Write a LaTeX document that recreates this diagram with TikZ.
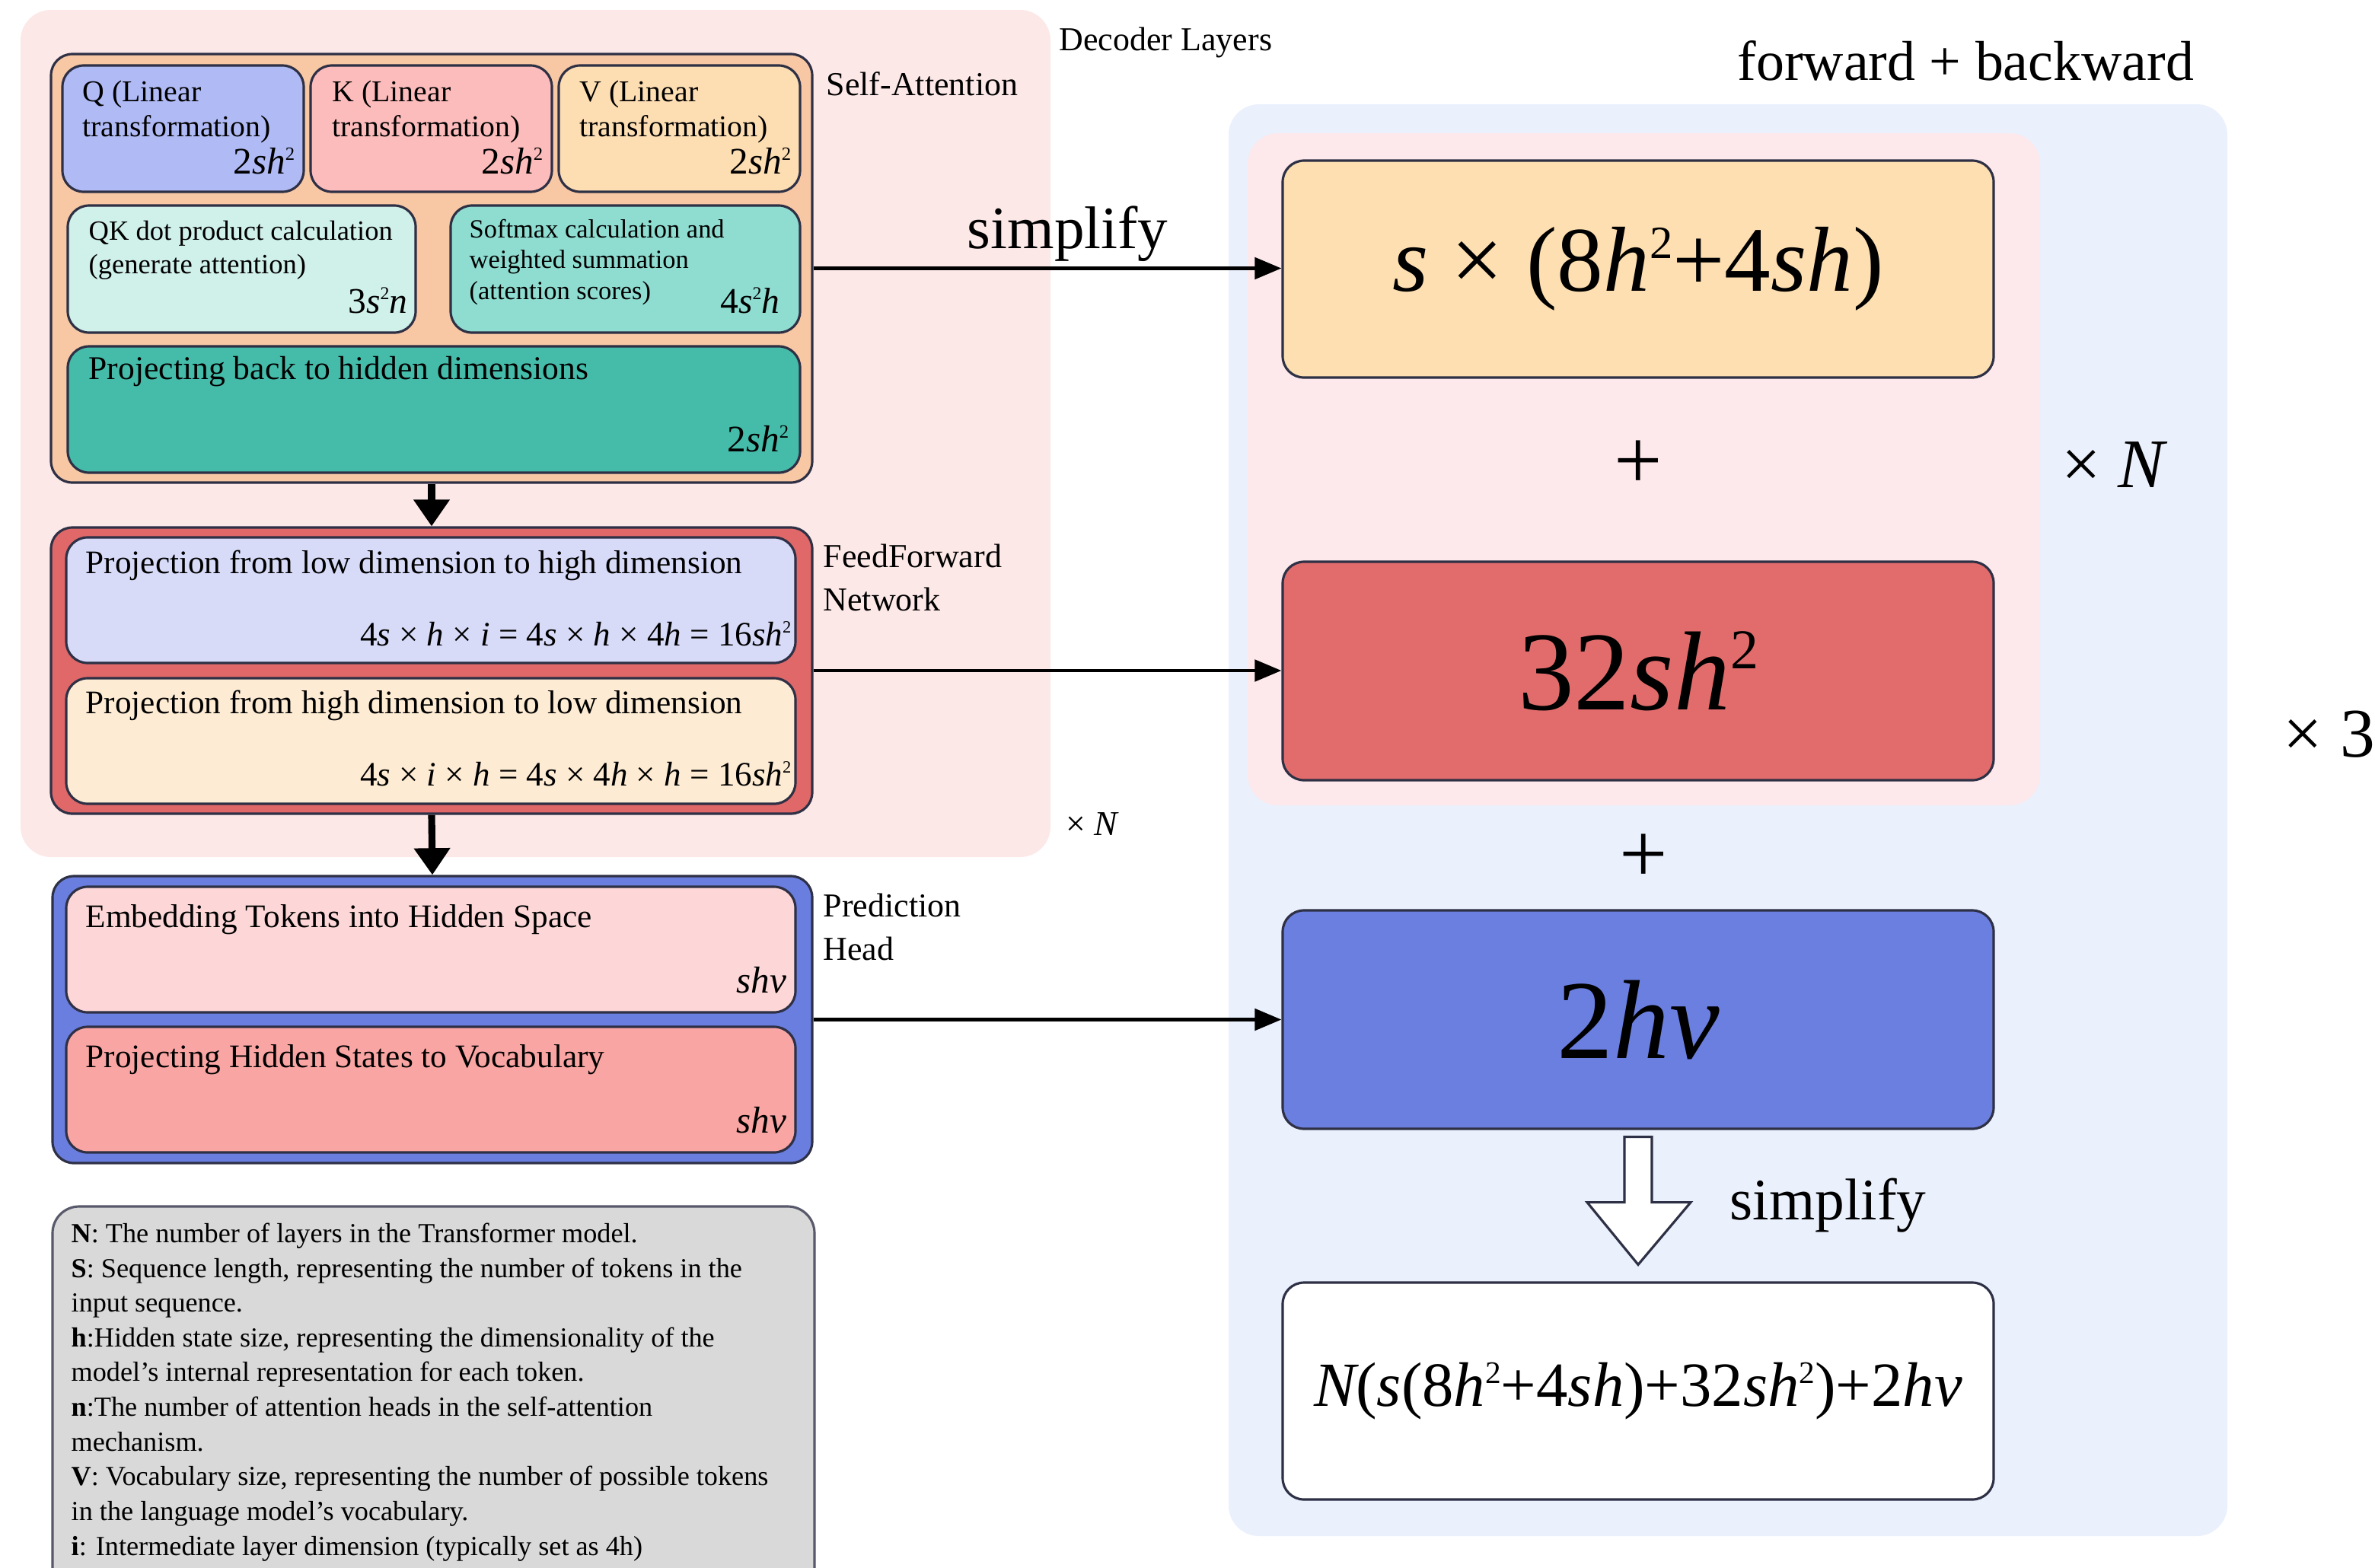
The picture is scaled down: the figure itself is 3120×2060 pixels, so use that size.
\documentclass[tikz,border=0pt]{standalone}
\usepackage{fontspec}
\setmainfont{Liberation Serif}
\usetikzlibrary{fit,arrows.meta,calc}

\definecolor{edge}{HTML}{2E3045}
\definecolor{decbg}{HTML}{FDE8E8}
\definecolor{safill}{HTML}{F8C8A4}
\definecolor{qfill}{HTML}{B0BAF5}
\definecolor{kfill}{HTML}{FDBCBC}
\definecolor{vfill}{HTML}{FDDDB2}
\definecolor{qkfill}{HTML}{D0F0EA}
\definecolor{smfill}{HTML}{8FDDD1}
\definecolor{pbfill}{HTML}{45BBA9}
\definecolor{ffnfill}{HTML}{E06868}
\definecolor{ffafill}{HTML}{D7DBF8}
\definecolor{ffbfill}{HTML}{FDEBD3}
\definecolor{phfill}{HTML}{6A7EE0}
\definecolor{phafill}{HTML}{FDD7D7}
\definecolor{phbfill}{HTML}{F9A5A3}
\definecolor{legfill}{HTML}{D9D9D9}
\definecolor{rbgfill}{HTML}{EAF0FC}
\definecolor{rpkfill}{HTML}{FDE9EB}
\definecolor{bafill}{HTML}{FDDFB1}
\definecolor{bbfill}{HTML}{E26C6C}
\definecolor{bcfill}{HTML}{6B7FE0}

\newcommand\fsz[2]{\fontsize{#1}{#2}\selectfont}
\newcommand\mv[1]{{\itshape #1}}
% small raised square sign, as in the formulas
\newcommand\sqd{\raisebox{0.36em}{\scalebox{0.5}{2}}}

\tikzset{
  panel/.style={draw=edge, line width=0.9pt, rounded corners=0.28cm, inner sep=0pt},
  bgpanel/.style={draw=none, rounded corners=0.4cm, inner sep=0pt},
  lbl/.style={anchor=base west, inner sep=0pt, align=left},
  frm/.style={anchor=base east, inner sep=0pt},
  link/.style={line width=1.4pt, -{Triangle[length=10pt,width=8pt]}},
  flow/.style={line width=2.6pt, -{Triangle[length=10pt,width=13pt]}},
}

\begin{document}
\begin{tikzpicture}[x=0.01cm,y=-0.01cm]
\useasboundingbox (0,0) rectangle (3120,2060);
\fill[white] (0,0) rectangle (3120,2060);

% ---- backgrounds ----
\node[bgpanel, fill=decbg, fit={(27,13) (1380,1126)}] (dec) {};
\node[bgpanel, fill=rbgfill, fit={(1614,137) (2926,2018)}] (rbg) {};
\node[bgpanel, fill=rpkfill, fit={(1639,175) (2680,1058)}] (rpk) {};

% ---- self-attention block ----
\node[panel, fill=safill, fit={(67,71) (1067,634)}] (sa) {};
\node[panel, fill=qfill, fit={(82,86) (399,252)}] (q) {};
\node[panel, fill=kfill, fit={(408,86) (725,252)}] (k) {};
\node[panel, fill=vfill, fit={(734,86) (1051,252)}] (v) {};
\node[panel, fill=qkfill, fit={(89,270) (546,437)}] (qk) {};
\node[panel, fill=smfill, fit={(592,270) (1051,437)}] (sm) {};
\node[panel, fill=pbfill, fit={(89,455) (1051,621)}] (pb) {};

% multi-line labels are placed by the baseline of their last line
\node[lbl, font=\fsz{11.3}{12.8}] (qt) at (108,179) {Q (Linear\\transformation)};
\node[lbl, font=\fsz{11.3}{12.8}] (kt) at (436,179) {K (Linear\\transformation)};
\node[lbl, font=\fsz{11.3}{12.8}] (vt) at (761,179) {V (Linear\\transformation)};
\node[frm, font=\fsz{14}{16}] (qf) at (388,228) {2\mv{sh}\sqd};
\node[frm, font=\fsz{14}{16}] (kf) at (714,228) {2\mv{sh}\sqd};
\node[frm, font=\fsz{14}{16}] (vf) at (1040,228) {2\mv{sh}\sqd};

\node[lbl, font=\fsz{10.4}{12.5}] (qkt) at (116,359) {QK dot product calculation\\(generate attention)};
\node[frm, font=\fsz{13.5}{16}] (qkf) at (536,411) {3\mv{s}\sqd\mv{n}};
\node[lbl, font=\fsz{9.8}{11.4}] (smt) at (616,393) {Softmax calculation and\\weighted summation\\(attention scores)};
\node[frm, font=\fsz{13.5}{16}] (smf) at (1025,411) {4\mv{s}\sqd\mv{h}};
\node[lbl, font=\fsz{12.4}{14}] (pbt) at (116,498) {Projecting back to hidden dimensions};
\node[frm, font=\fsz{14}{16}] (pbf) at (1037,593) {2\mv{sh}\sqd};

% ---- feed-forward block ----
\node[panel, fill=ffnfill, fit={(67,693) (1067,1069)}] (ffn) {};
\node[panel, fill=ffafill, fit={(87,706) (1045,871)}] (ffa) {};
\node[panel, fill=ffbfill, fit={(87,891) (1045,1056)}] (ffb) {};
\node[lbl, font=\fsz{12.3}{14}] (ffat) at (112,753) {Projection from low dimension to high dimension};
\node[frm, font=\fsz{12.8}{15}] (ffaf) at (1040,848) {4\mv{s} × \mv{h} × \mv{i} = 4\mv{s} × \mv{h} × 4\mv{h} = 16\mv{sh}\sqd};
\node[lbl, font=\fsz{12.3}{14}] (ffbt) at (112,937) {Projection from high dimension to low dimension};
\node[frm, font=\fsz{12.8}{15}] (ffbf) at (1040,1032) {4\mv{s} × \mv{i} × \mv{h} = 4\mv{s} × 4\mv{h} × \mv{h} = 16\mv{sh}\sqd};

% ---- prediction head block ----
\node[panel, fill=phfill, fit={(69,1151) (1067,1528)}] (ph) {};
\node[panel, fill=phafill, fit={(87,1165) (1045,1330)}] (pha) {};
\node[panel, fill=phbfill, fit={(87,1349) (1045,1514)}] (phb) {};
\node[lbl, font=\fsz{12.3}{14}] (phat) at (112,1218) {Embedding Tokens into Hidden Space};
\node[frm, font=\fsz{14}{16}] (phaf) at (1034,1304) {\mv{shv}};
\node[lbl, font=\fsz{12.3}{14}] (phbt) at (112,1402) {Projecting Hidden States to Vocabulary};
\node[frm, font=\fsz{14}{16}] (phbf) at (1034,1488) {\mv{shv}};

% ---- block captions ----
\node[lbl, font=\fsz{12.5}{16}] (dect) at (1391,66) {Decoder Layers};
\node[lbl, font=\fsz{12.5}{16}] (sat) at (1085,125) {Self-Attention};
\node[lbl, font=\fsz{12.5}{16.2}] (ffnt) at (1081,802) {FeedForward\\Network};
\node[lbl, font=\fsz{12.5}{16.2}] (pht) at (1081,1261) {Prediction\\Head};
\node[lbl, font=\fsz{13}{16}] (decn) at (1400,1097) {× \mv{N}};

% ---- block-to-block flow ----
\draw[flow] (sa.south) -- (ffn.north);
\draw[flow] (ffn.south) -- (ph.north);

% ---- legend ----
\node[panel, draw=edge!80, fill=legfill, rounded corners=0.35cm, fit={(69,1585) (1070,2110)}] (leg) {};
\node[lbl, font=\fsz{10.3}{12.97}] (legt) at (93,2043) {%
\textbf{N}: The number of layers in the Transformer model.\\
\textbf{S}: Sequence length, representing the number of tokens in the\\
input sequence.\\
\textbf{h}:Hidden state size, representing the dimensionality of the\\
model’s internal representation for each token.\\
\textbf{n}:The number of attention heads in the self-attention\\
mechanism.\\
\textbf{V}: Vocabulary size, representing the number of possible tokens\\
in the language model’s vocabulary.\\
\textbf{i}: Intermediate layer dimension (typically set as 4h)};

% ---- cost summary ----
\node[panel, fill=bafill, fit={(1685,211) (2619,496)}] (b1) {};
\node[panel, fill=bbfill, fit={(1685,738) (2619,1025)}] (b2) {};
\node[panel, fill=bcfill, fit={(1685,1196) (2619,1483)}] (b3) {};
\node[panel, fill=white, fit={(1685,1685) (2619,1970)}] (b4) {};

\node[font=\fsz{34.5}{40}, inner sep=0pt] (b1t) at (b1.center) {\mv{s} × (8\mv{h}\sqd+4\mv{sh})};
\node[font=\fsz{42}{46}, inner sep=0pt] (b2t) at (b2.center) {32\mv{sh}\sqd};
\node[font=\fsz{42}{46}, inner sep=0pt] (b3t) at (b3.center) {2\mv{hv}};
\node[font=\fsz{23.5}{28}, inner sep=0pt] (b4t) at (b4.center) {\mv{N}(\mv{s}(8\mv{h}\sqd+4\mv{sh})+32\mv{sh}\sqd)+2\mv{hv}};

\node[font=\fsz{32}{36}, inner sep=0pt] (plus1) at (2152,611) {+};
\node[font=\fsz{32}{36}, inner sep=0pt] (plus2) at (2159,1128) {+};
\node[lbl, font=\fsz{21}{24}] (fbt) at (2282,105) {forward + backward};
\node[font=\fsz{26}{30}, inner sep=0pt] (xn) at (2776,611) {× \mv{N}};
\node[font=\fsz{26}{30}, inner sep=0pt] (x3) at (3060,965) {× 3};

% ---- connectors into the summary ----
\draw[link] (sa.east) -- (sa.east -| b1.west);
\draw[link] (ffn.east) -- (ffn.east -| b2.west);
\draw[link] (ph.east) -- (ph.east -| b3.west);
\node[lbl, font=\fsz{22.5}{26}] (simp1) at (1270,326) {simplify};

% hollow arrow from the per-block costs to the total
\draw[edge, line width=0.9pt, fill=white]
  ($(b3.south)+(-18,9)$) -- ($(b3.south)+(18,9)$) -- ($(b3.south)+(18,95)$)
  -- ($(b3.south)+(69,95)$) -- ($(b4.north)+(0,-22)$) -- ($(b3.south)+(-67,95)$)
  -- ($(b3.south)+(-18,95)$) -- cycle;
\node[lbl, font=\fsz{22}{26}] (simp2) at (2272,1602) {simplify};
\end{tikzpicture}
\end{document}
